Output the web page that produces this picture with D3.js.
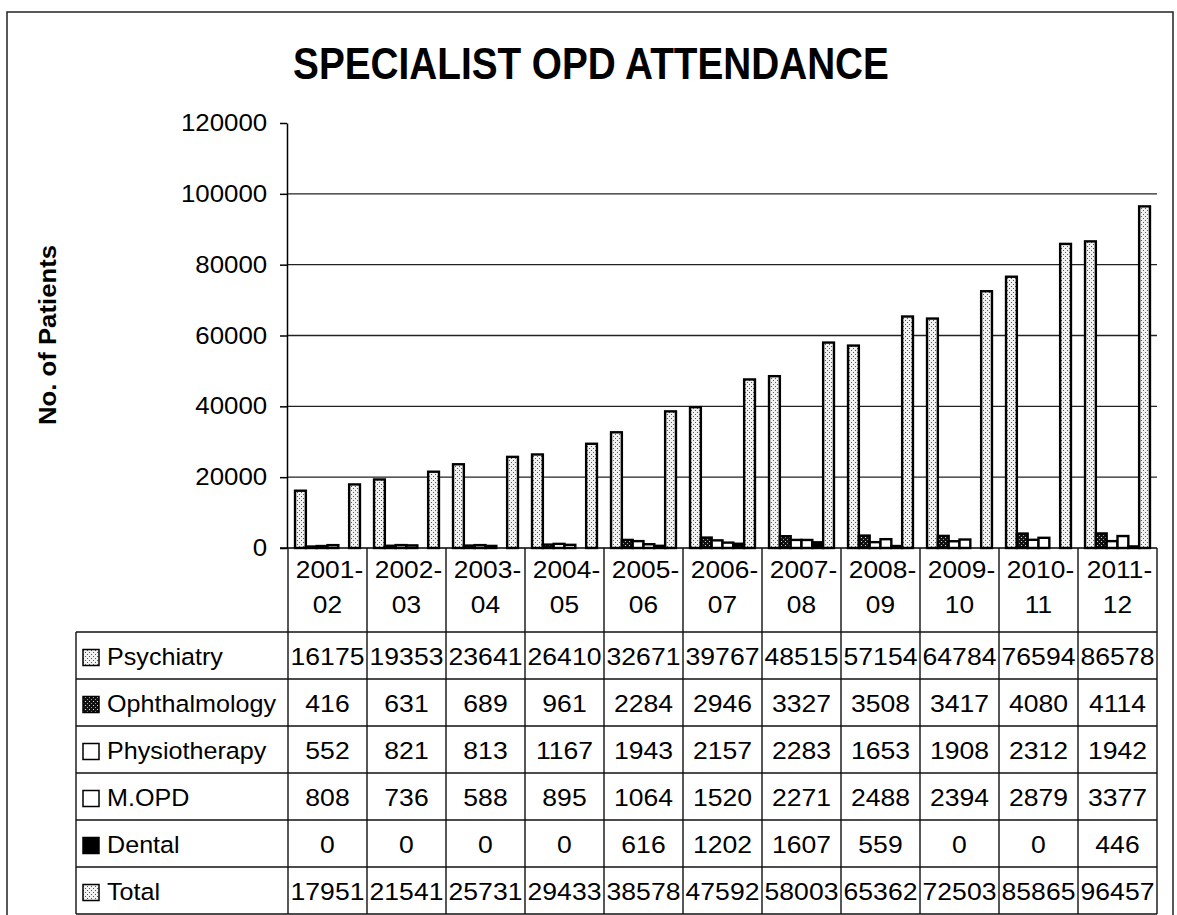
<!DOCTYPE html>
<html>
<head>
<meta charset="utf-8">
<script src="https://cdn.jsdelivr.net/npm/d3@7"></script>
<style>
	body { margin: 0; background: #fff; }
	text { font-family: "Liberation Sans", Arial, sans-serif; fill: #000; }
</style>
</head>
<body>
<div id="chartDiv"></div>
<script>

// values
var categories = ["2001-02", "2002-03", "2003-04", "2004-05", "2005-06", "2006-07",
	"2007-08", "2008-09", "2009-10", "2010-11", "2011-12"];
var seriesNames = ["Psychiatry", "Ophthalmology", "Physiotherapy", "M.OPD", "Dental", "Total"];
var psychiatry = [16175, 19353, 23641, 26410, 32671, 39767, 48515, 57154, 64784, 76594, 86578];
var ophthalmology = [416, 631, 689, 961, 2284, 2946, 3327, 3508, 3417, 4080, 4114];
var physiotherapy = [552, 821, 813, 1167, 1943, 2157, 2283, 1653, 1908, 2312, 1942];
var mopd = [808, 736, 588, 895, 1064, 1520, 2271, 2488, 2394, 2879, 3377];
var dental = [0, 0, 0, 0, 616, 1202, 1607, 559, 0, 0, 446];
var total = [17951, 21541, 25731, 29433, 38578, 47592, 58003, 65362, 72503, 85865, 96457];
var yTicks = [0, 20000, 40000, 60000, 80000, 100000, 120000];
var gridTicks = [20000, 40000, 60000, 80000, 100000];

var seriesValues = [psychiatry, ophthalmology, physiotherapy, mopd, dental, total];
var seriesFill = ["url(#dots)", "url(#darkgrid)", "#fff", "#fff", "#000", "url(#dots)"];

var width = 1177, height = 915;
var plotLeft = 288, plotRight = 1157, plotTop = 123, plotBottom = 548;
var tableLeft = 76, rowTop = 632, rowBottom = 914;

var svg = d3.select("#chartDiv").append("svg")
	.attr("width", width)
	.attr("height", height);

// fill patterns (scanned stipple look)
var defs = svg.append("defs");
var dots = defs.append("pattern").attr("id", "dots")
	.attr("width", 4).attr("height", 4).attr("patternUnits", "userSpaceOnUse");
dots.append("rect").attr("width", 4).attr("height", 4).attr("fill", "#f2f2f2");
dots.append("rect").attr("x", 1).attr("y", 0).attr("width", 1).attr("height", 1).attr("fill", "#555");
dots.append("rect").attr("x", 3).attr("y", 2).attr("width", 1).attr("height", 1).attr("fill", "#555");
var dark = defs.append("pattern").attr("id", "darkgrid")
	.attr("width", 4).attr("height", 4).attr("patternUnits", "userSpaceOnUse");
dark.append("rect").attr("width", 4).attr("height", 4).attr("fill", "#111");
dark.append("rect").attr("x", 1).attr("y", 1).attr("width", 1).attr("height", 1).attr("fill", "#ddd");
dark.append("rect").attr("x", 3).attr("y", 3).attr("width", 1).attr("height", 1).attr("fill", "#999");

// text helper: the scan is a bit wider than plain Arial, so stretch horizontally
function addText(parent, x, y, str, size, sx, anchor, weight) {
	return parent.append("text")
		.attr("transform", "translate(" + x + "," + y + ") scale(" + sx + ",1)")
		.attr("text-anchor", anchor || "start")
		.style("font-size", size + "px")
		.style("font-weight", weight || "normal")
		.text(str);
}

// chart border
svg.append("rect")
	.attr("x", 7).attr("y", 12)
	.attr("width", 1166).attr("height", 920)
	.attr("fill", "none").attr("stroke", "#222").attr("stroke-width", 1.5);

// title
addText(svg, 591, 79, "SPECIALIST OPD ATTENDANCE", 44, 0.88, "middle", "bold");

// y axis label
svg.append("text")
	.attr("transform", "translate(56,335) rotate(-90) scale(1.05,1)")
	.attr("text-anchor", "middle")
	.style("font-size", "24.5px")
	.style("font-weight", "bold")
	.text("No. of Patients");

// scales
var x0 = d3.scaleBand().domain(categories).range([plotLeft, plotRight]).padding(0);
var x1 = d3.scaleBand().domain(seriesNames).range([0, x0.bandwidth()])
	.paddingInner(0).paddingOuter(0.65);
var y = d3.scaleLinear().domain([0, 120000]).range([plotBottom, plotTop]);
var rowY = d3.scaleBand().domain(seriesNames).range([rowTop, rowBottom]).padding(0);

// gridlines
svg.append("g").selectAll("line")
	.data(gridTicks).enter().append("line")
	.attr("x1", plotLeft).attr("x2", plotRight)
	.attr("y1", function (d) { return y(d); })
	.attr("y2", function (d) { return y(d); })
	.attr("stroke", "#222").attr("stroke-width", 1.3);

// y axis
var yAxis = svg.append("g")
	.attr("transform", "translate(" + (plotLeft - 1) + ",0)")
	.call(d3.axisLeft(y).tickValues(yTicks).tickSize(7).tickSizeOuter(0).tickPadding(11)
		.tickFormat(d3.format("d")));
yAxis.select(".domain").attr("stroke", "#000").attr("stroke-width", 1.5);
yAxis.selectAll(".tick line").attr("stroke", "#000").attr("stroke-width", 1.5);
yAxis.selectAll(".tick text")
	.attr("transform", "scale(1.1,1)")
	.attr("fill", "#000")
	.style("font-family", "'Liberation Sans', Arial, sans-serif")
	.style("font-size", "23.5px");

// bars
var barData = [];
categories.forEach(function (c, i) {
	seriesNames.forEach(function (s, j) {
		barData.push({cat: c, series: s, value: seriesValues[j][i], fill: seriesFill[j]});
	});
});
svg.append("g").selectAll("rect")
	.data(barData).enter().append("rect")
	.attr("x", function (d) { return x0(d.cat) + x1(d.series); })
	.attr("y", function (d) { return y(d.value); })
	.attr("width", x1.bandwidth())
	.attr("height", function (d) { return y(0) - y(d.value); })
	.attr("fill", function (d) { return d.fill; })
	.attr("stroke", "#000")
	.attr("stroke-width", 2.4);

// x axis line (top of the data table)
svg.append("line")
	.attr("x1", plotLeft - 8).attr("x2", plotRight)
	.attr("y1", plotBottom).attr("y2", plotBottom)
	.attr("stroke", "#000").attr("stroke-width", 1.5);

// data table
var table = svg.append("g");
var rowLines = seriesNames.map(function (s) { return rowY(s); }).concat([rowBottom]);
table.selectAll("line.row")
	.data(rowLines).enter().append("line")
	.attr("class", "row")
	.attr("x1", tableLeft).attr("x2", plotRight)
	.attr("y1", function (d) { return d; }).attr("y2", function (d) { return d; })
	.attr("stroke", "#111").attr("stroke-width", 1.4);
var colLines = categories.map(function (c) { return x0(c); }).concat([plotRight]);
table.selectAll("line.col")
	.data(colLines).enter().append("line")
	.attr("class", "col")
	.attr("x1", function (d) { return d; }).attr("x2", function (d) { return d; })
	.attr("y1", plotBottom).attr("y2", rowBottom)
	.attr("stroke", "#111").attr("stroke-width", 1.4);
table.append("line")
	.attr("x1", tableLeft).attr("x2", tableLeft)
	.attr("y1", rowTop).attr("y2", rowBottom)
	.attr("stroke", "#111").attr("stroke-width", 1.4);

// category labels, two lines each
categories.forEach(function (c) {
	var parts = c.split("-");
	var cx = x0(c) + x0.bandwidth() / 2;
	addText(table, cx + 2, 578, parts[0] + "-", 23.5, 1.12, "middle");
	addText(table, cx, 613, parts[1], 23.5, 1.12, "middle");
});

// row labels with legend keys
seriesNames.forEach(function (s, j) {
	var cy = rowY(s) + rowY.bandwidth() / 2;
	table.append("rect")
		.attr("x", 83).attr("y", cy - 6)
		.attr("width", 16).attr("height", 16)
		.attr("fill", seriesFill[j])
		.attr("stroke", "#000").attr("stroke-width", 1.5);
	addText(table, 107, cy + 9, s, 23.5, 1.07, "start");
	categories.forEach(function (c, i) {
		addText(table, x0(c) + x0.bandwidth() / 2, cy + 9, seriesValues[j][i], 23.5, 1.13, "middle");
	});
});

</script>
</body>
</html>
